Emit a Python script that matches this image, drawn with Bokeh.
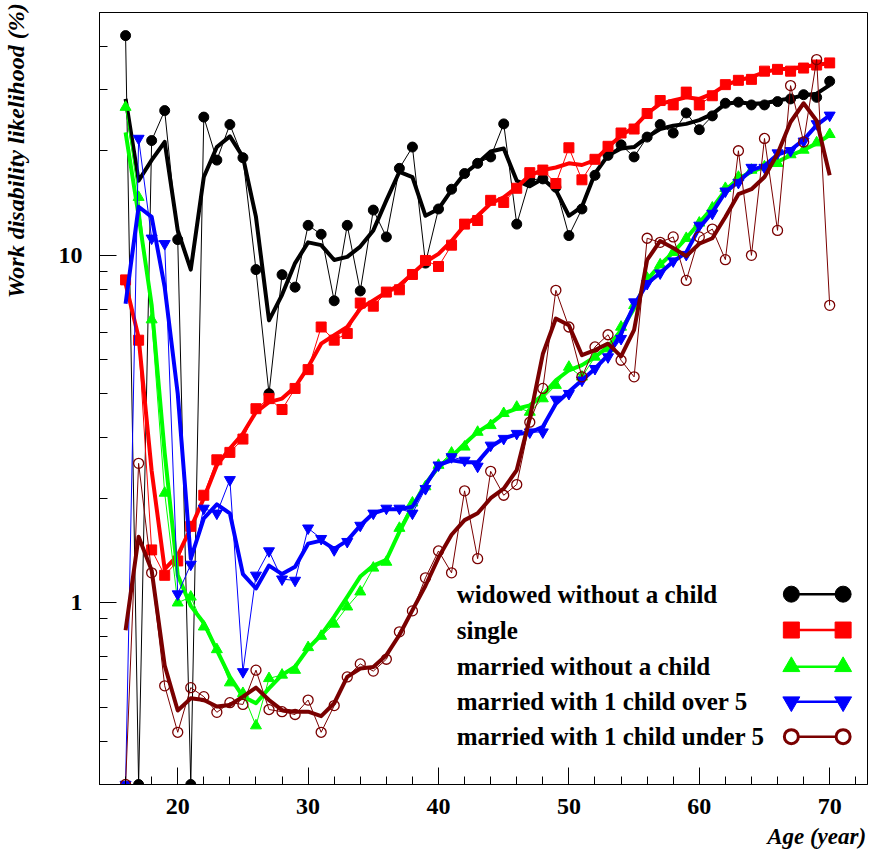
from bokeh.plotting import figure
from bokeh.models import (FixedTicker, ColumnDataSource, PrintfTickFormatter,
                          LinearAxis, LogAxis)
from bokeh.core.properties import value
from bokeh.embed import file_html
from bokeh.resources import INLINE

# ---------------- data ----------------
ages = list(range(16, 71))

widowed_raw = [42.9, 0.3, 21.4, 26.1, 11.1, 0.3, 25.0, 18.8, 23.8, 19.1,
               9.1, 4.0, 8.8, 8.1, 12.2, 11.5, 7.4, 12.2, 7.9, 13.5,
               11.3, 17.8, 20.5, 9.5, 13.6, 15.5, 17.2, 18.4, 19.2, 23.9,
               12.3, 16.5, 16.6, 15.7, 11.4, 13.6, 17.0, 19.4, 20.8, 19.2,
               21.9, 23.8, 22.5, 25.7, 23.0, 25.2, 27.4, 27.6, 27.1, 27.1,
               27.7, 28.2, 29.0, 28.5, 31.7]
widowed_fit = [28.2, 16.4, 18.8, 21.2, 11.8, 9.1, 16.8, 20.5, 22.0, 19.2,
               12.9, 6.5, 7.7, 9.5, 10.9, 10.7, 9.7, 9.9, 10.6, 11.8,
               14.4, 17.4, 16.8, 13.0, 13.6, 15.4, 17.2, 18.4, 19.9, 20.3,
               16.4, 15.8, 16.6, 15.4, 13.0, 13.8, 17.2, 19.4, 20.3, 20.5,
               21.9, 23.1, 23.6, 23.9, 24.5, 25.5, 27.3, 27.6, 27.3, 27.4,
               27.9, 28.3, 28.9, 29.2, 30.9]

single_raw = [8.5, 5.7, 1.42, 1.20, 1.32, 1.66, 2.04, 2.58, 2.71, 2.96,
              3.62, 3.87, 3.60, 4.14, 4.69, 6.22, 5.70, 5.96, 7.29, 7.14,
              7.84, 7.96, 8.81, 9.67, 9.29, 10.7, 12.3, 12.6, 14.4, 14.2,
              15.6, 17.3, 17.6, 16.1, 20.4, 16.5, 18.9, 20.6, 22.5, 23.1,
              25.6, 27.9, 27.1, 29.5, 27.1, 28.8, 31.0, 31.9, 32.1, 33.9,
              34.3, 33.9, 34.6, 35.3, 35.8]
single_fit = [8.3, 5.8, 2.4, 1.25, 1.37, 1.64, 2.0, 2.49, 2.78, 3.07,
              3.54, 3.78, 3.87, 4.18, 4.77, 5.57, 5.89, 6.22, 7.03, 7.42,
              7.84, 8.20, 8.86, 9.57, 10.1, 11.0, 12.2, 13.0, 14.1, 14.7,
              15.7, 17.0, 17.6, 17.9, 18.4, 18.2, 18.8, 20.5, 22.1, 23.4,
              25.6, 27.3, 27.9, 28.5, 28.2, 29.2, 30.9, 31.9, 32.6, 33.7,
              34.3, 34.5, 34.9, 35.3, 35.8]

married_raw = [26.7, 14.7, 6.53, 2.07, 1.00, 1.04, 0.853, 0.734, 0.589, 0.549,
               0.443, 0.606, 0.620, 0.640, 0.744, 0.802, 0.869, 0.974, 1.076, 1.26,
               1.31, 1.64, 1.94, 2.16, 2.49, 2.70, 2.81, 3.10, 3.24, 3.51,
               3.66, 3.54, 3.87, 4.23, 4.77, 4.47, 5.10, 5.39, 6.22, 7.18,
               8.6, 9.4, 10.2, 11.2, 12.4, 13.7, 15.6, 16.8, 17.6, 18.0,
               18.4, 19.5, 20.1, 21.1, 22.3]
married_fit = [22.6, 13.0, 7.2, 2.7, 1.2, 0.98, 0.875, 0.731, 0.612, 0.537,
               0.514, 0.567, 0.620, 0.655, 0.739, 0.808, 0.912, 1.04, 1.19, 1.28,
               1.33, 1.60, 1.89, 2.20, 2.46, 2.63, 2.87, 3.10, 3.28, 3.51,
               3.62, 3.70, 3.96, 4.37, 4.67, 4.83, 5.10, 5.45, 6.09, 7.03,
               8.5, 9.4, 10.2, 11.2, 12.4, 13.7, 15.4, 16.6, 17.4, 18.0,
               18.6, 19.4, 20.1, 21.0, 22.2]

over5_raw = [0.3, 21.7, 11.2, 10.8, 1.06, 1.29, 1.87, 1.81, 2.26, 0.633,
             1.20, 1.41, 1.17, 1.16, 1.64, 1.53, 1.42, 1.50, 1.67, 1.81,
             1.87, 1.87, 1.81, 2.13, 2.49, 2.63, 2.57, 2.47, 2.84, 2.97,
             3.07, 3.10, 3.10, 3.85, 4.00, 4.37, 4.72, 5.10, 5.76, 7.34,
             8.29, 8.89, 9.63, 10.05, 12.2, 13.2, 15.3, 16.2, 17.9, 17.9,
             19.7, 20.0, 21.3, 23.9, 25.3]
over5_fit = [7.26, 13.8, 12.9, 8.1, 4.0, 1.34, 1.75, 1.92, 1.81, 1.21,
             1.10, 1.28, 1.21, 1.27, 1.48, 1.51, 1.43, 1.51, 1.67, 1.81,
             1.86, 1.86, 1.89, 2.18, 2.49, 2.57, 2.54, 2.54, 2.81, 2.97,
             3.06, 3.09, 3.21, 3.74, 4.05, 4.37, 4.72, 5.16, 5.96, 7.18,
             8.3, 8.9, 9.6, 10.2, 12.0, 13.3, 15.2, 16.3, 17.6, 18.1,
             19.5, 20.1, 21.5, 23.7, 25.3]

under5_raw = [0.3, 2.52, 1.22, 0.577, 0.424, 0.570, 0.537, 0.484, 0.516, 0.510,
              0.640, 0.493, 0.486, 0.477, 0.525, 0.424, 0.506, 0.612, 0.667, 0.636,
              0.688, 0.825, 0.948, 1.18, 1.41, 1.22, 2.10, 1.34, 2.39, 2.04,
              2.19, 3.31, 4.14, 7.93, 6.22, 4.47, 5.45, 5.91, 4.99, 4.47,
              11.2, 10.9, 11.3, 8.47, 11.3, 11.9, 9.72, 20.0, 10.0, 21.7,
              11.8, 30.8, 21.2, 36.6, 7.18]
under5_fit = [0.834, 1.55, 1.24, 0.66, 0.49, 0.531, 0.525, 0.503, 0.508, 0.537,
              0.570, 0.525, 0.491, 0.486, 0.486, 0.472, 0.514, 0.612, 0.647, 0.654,
              0.707, 0.808, 0.953, 1.12, 1.35, 1.57, 1.73, 1.81, 2.00, 2.13,
              2.41, 3.4, 5.2, 6.58, 6.29, 5.16, 5.34, 5.57, 5.12, 6.1,
              9.7, 11.0, 10.5, 9.95, 10.8, 11.2, 12.9, 15.0, 15.5, 16.8,
              19.6, 24.2, 27.4, 24.4, 17.0]

labels = ["widowed without a child", "single", "married without a child",
          "married with 1 child over 5", "married with 1 child under 5"]
raw_series = [widowed_raw, single_raw, married_raw, over5_raw, under5_raw]
fit_series = [widowed_fit, single_fit, married_fit, over5_fit, under5_fit]

x_major = [20, 30, 40, 50, 60, 70]
x_minor = [16, 18, 22, 24, 26, 28, 32, 34, 36, 38, 42, 44, 46, 48,
           52, 54, 56, 58, 62, 64, 66, 68, 72]
y_major = [1, 10]
y_minor = [0.3, 0.4, 0.5, 0.6, 0.7, 0.8, 0.9, 2, 3, 4, 5, 6, 7, 8, 9, 20, 30, 40, 50]

x_title = "Age (year)"
y_title = "Work disability likelihood (%)"

# ---------------- styles ----------------
colors = ["#000000", "#ff0000", "#00ff00", "#0000ff", "#7a0000"]
markers = ["circle", "square", "triangle", "inverted_triangle", "circle"]
filled = [True, True, True, True, False]
msizes = [10, 10, 11, 11, 10]
lsizes = [16, 16, 17, 17, 16]

FONT = "Liberation Serif"

p = figure(width=868, height=851, x_range=(14, 72.9), y_range=(0.3, 50),
           y_axis_type="log", output_backend="svg", toolbar_location=None,
           min_border_left=99, min_border_right=1, min_border_top=12,
           min_border_bottom=67)
p.xgrid.visible = False
p.ygrid.visible = False
p.outline_line_color = "black"
p.outline_line_width = 1
p.outline_line_alpha = 1

for ax in (p.xaxis[0], p.yaxis[0]):
    ax.major_tick_in = 17
    ax.major_tick_out = 0
    ax.minor_tick_in = 8
    ax.minor_tick_out = 0
    ax.axis_line_color = "black"
    ax.axis_line_width = 1
    ax.major_tick_line_color = "black"
    ax.minor_tick_line_color = "black"
    ax.major_label_text_font = FONT
    ax.major_label_text_font_style = "bold"
    ax.major_label_text_font_size = "24px"
    ax.major_label_text_color = "black"

p.xaxis.ticker = FixedTicker(ticks=x_major, minor_ticks=x_minor)
p.yaxis.ticker = FixedTicker(ticks=y_major, minor_ticks=y_minor)
p.yaxis.formatter = PrintfTickFormatter(format="%d")
p.xaxis.major_label_standoff = 14
p.yaxis.major_label_standoff = 17

# ---- axis titles, ROOT style (at the far end of each axis), as extra label-only axes ----
xt = LinearAxis(ticker=FixedTicker(ticks=[69]), major_label_overrides={69: x_title},
                axis_line_color=None, major_tick_line_color=None,
                minor_tick_line_color=None, major_label_standoff=1,
                major_label_text_font=FONT, major_label_text_font_style="bold italic",
                major_label_text_font_size="23px", major_label_text_color="black")
p.add_layout(xt, "below")
yt = LogAxis(ticker=FixedTicker(ticks=[20]), major_label_overrides={20: y_title},
             major_label_orientation="vertical",
             axis_line_color=None, major_tick_line_color=None,
             minor_tick_line_color=None, major_label_standoff=20,
             major_label_text_font=FONT, major_label_text_font_style="bold italic",
             major_label_text_font_size="24px", major_label_text_color="black")
p.add_layout(yt, "left")

for raw, fit, col, mk, fl, ms in zip(raw_series, fit_series, colors, markers, filled, msizes):
    src = ColumnDataSource(dict(x=ages, y=raw, f=fit))
    p.line("x", "y", source=src, line_color=col, line_width=1)
    if fl:
        p.scatter("x", "y", source=src, marker=mk, size=ms, fill_color=col,
                  line_color=col, line_width=1)
    else:
        p.scatter("x", "y", source=src, marker=mk, size=ms, fill_color=None,
                  line_color=col, line_width=1.3)
    p.line("x", "f", source=src, line_color=col, line_width=4,
           line_join="round")

# ---------------- legend (text left, symbol right, as in the original) ----------------
leg_x_text = 41.4
leg_x_sym = [67.06, 71.03]
leg_y = [1.059, 0.835, 0.655, 0.519, 0.412]
p.text(x=[leg_x_text] * 5, y=leg_y, text=labels, text_font=value(FONT),
       text_font_style="bold", text_font_size="25px", text_baseline="middle",
       text_align="left", text_color="black")
for i in range(5):
    ys = [leg_y[i], leg_y[i]]
    p.line(leg_x_sym, ys, line_color=colors[i], line_width=2.5)
    if filled[i]:
        p.scatter(leg_x_sym, ys, marker=markers[i], size=lsizes[i],
                  fill_color=colors[i], line_color=colors[i])
    else:
        p.scatter(leg_x_sym, ys, marker=markers[i], size=lsizes[i] - 2,
                  fill_color="white", line_color=colors[i], line_width=3)

open("out.html", "w").write(file_html(p, INLINE))
